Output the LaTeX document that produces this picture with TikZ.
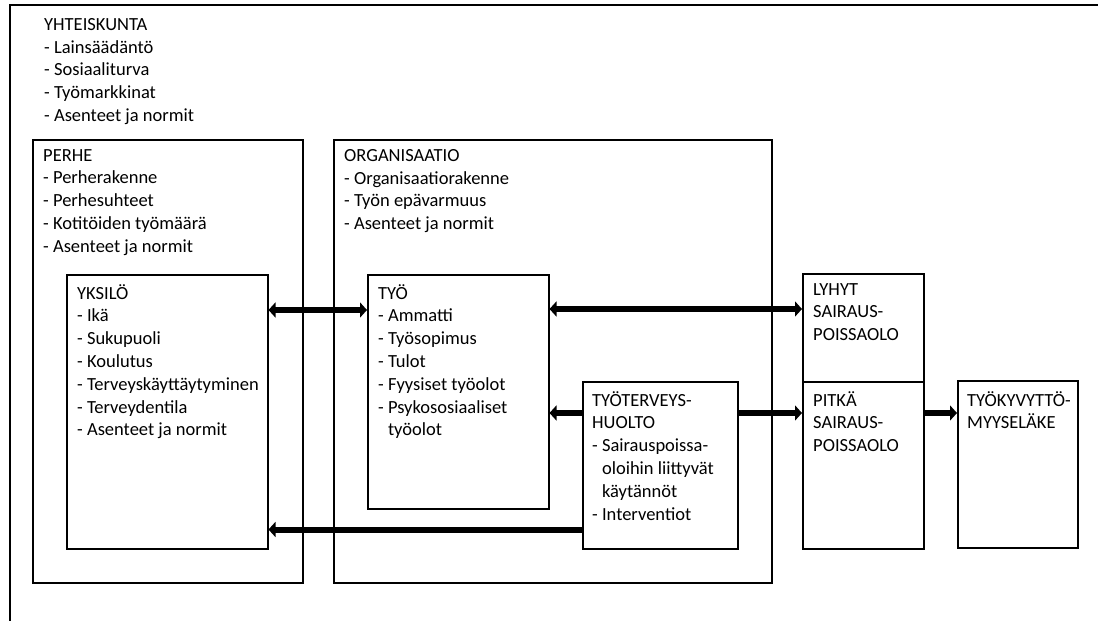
\documentclass[tikz,border=0pt]{standalone}
\usepackage{fontspec}
\setmainfont{Carlito}
\usetikzlibrary{arrows.meta}

\begin{document}
\begin{tikzpicture}[x=1pt,y=-1pt,
    box/.style={draw=black, line width=1.5pt, anchor=north west, inner sep=0pt},
    txt/.style={anchor=north west, align=left, inner sep=0pt,
      font=\fontsize{18.5}{22.8}\selectfont, execute at begin node=\strut},
    arr/.style={line width=6pt, -{Triangle[length=7pt,width=15pt]}},
    darr/.style={line width=6pt, {Triangle[length=7pt,width=15pt]}-{Triangle[length=7pt,width=15pt]}}]
      \useasboundingbox (0,0) rectangle (1098,621);
      \clip (0,0) rectangle (1098,621);

      % boxes
      \node[box, minimum width=1095, minimum height=625](yht) at (9,4){};
      \node[box, minimum width=270, minimum height=443](perhe) at (32,139){};
      \node[box, minimum width=438, minimum height=443](org) at (333,139){};
      \node[box, minimum width=201, minimum height=274](yksilo) at (66,274){};
      \node[box, minimum width=181, minimum height=234](tyo) at (367,274){};
      \node[box, minimum width=155, minimum height=167](thl) at (582,381){};
      \node[box, minimum width=121, minimum height=108](lyhyt) at (802,273){};
      \node[box, minimum width=121, minimum height=167](pitka) at (802,381){};
      \node[box, minimum width=120, minimum height=167](tke) at (957,380){};

      % texts
      \node[txt](yhttxt) at ([shift={(35,14)}]yht.north west){YHTEISKUNTA\\- Lainsäädäntö\\- Sosiaaliturva\\- Työmarkkinat\\- Asenteet ja normit};
      \node[txt](perhetxt) at ([shift={(11,10)}]perhe.north west){PERHE\\- Perherakenne\\- Perhesuhteet\\- Kotitöiden työmäärä\\- Asenteet ja normit};
      \node[txt](orgtxt) at ([shift={(11,10)}]org.north west){ORGANISAATIO\\- Organisaatiorakenne\\- Työn epävarmuus\\- Asenteet ja normit};
      \node[txt](yksilotxt) at ([shift={(11,10)}]yksilo.north west){YKSILÖ\\- Ikä\\- Sukupuoli\\- Koulutus\\- Terveyskäyttäytyminen\\- Terveydentila\\- Asenteet ja normit};
      \node[txt](tyotxt) at ([shift={(11,10)}]tyo.north west){TYÖ\\- Ammatti\\- Työsopimus\\- Tulot\\- Fyysiset työolot\\- Psykososiaaliset\\\phantom{- }työolot};
      \node[txt](thltxt) at ([shift={(10,10)}]thl.north west){TYÖTERVEYS-\\HUOLTO\\- Sairauspoissa-\\\phantom{- }oloihin liittyvät\\\phantom{- }käytännöt\\- Interventiot};
      \node[txt](lyhyttxt) at ([shift={(11,10)}]lyhyt.north west){LYHYT\\SAIRAUS-\\POISSAOLO};
      \node[txt](pitkatxt) at ([shift={(11,10)}]pitka.north west){PITKÄ\\SAIRAUS-\\POISSAOLO};
      \node[txt](tketxt) at ([shift={(10,11)}]tke.north west){TYÖKYVYTTÖ-\\MYYSELÄKE};

      % arrows
      \coordinate (yksout) at ([yshift=-36pt]yksilo.north east);
      \coordinate (tyoout) at ([yshift=-35pt]tyo.north east);
      \coordinate (thlout) at ([yshift=-32pt]thl.north west);
      \coordinate (thllow) at ([yshift=20pt]thl.south west);
      \coordinate (pitout) at ([yshift=-32pt]pitka.north east);

      \draw[darr] (yksout) -- (yksout -| tyo.west);
      \draw[darr] (tyoout) -- (tyoout -| lyhyt.west);
      \draw[arr] (thlout) -- (thlout -| tyo.east);
      \draw[arr] (thlout -| thl.east) -- (thlout -| pitka.west);
      \draw[arr] (thllow) -- (thllow -| yksilo.east);
      \draw[arr] (pitout) -- (pitout -| tke.west);
    \end{tikzpicture}
\end{document}
